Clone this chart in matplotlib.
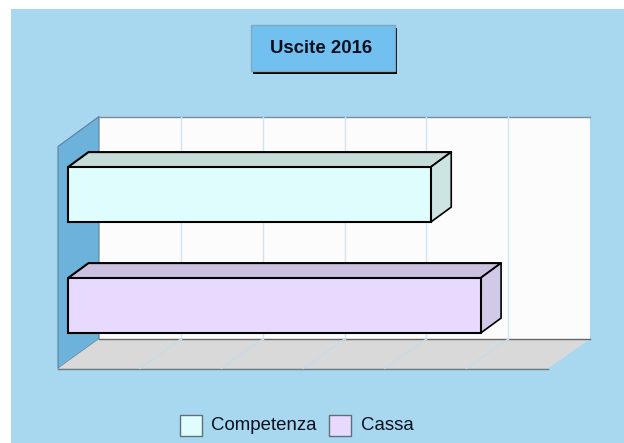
import matplotlib
matplotlib.use("Agg")
import matplotlib.pyplot as plt
from matplotlib.patches import Polygon, Rectangle

plt.rcParams["font.family"] = ["Liberation Sans", "DejaVu Sans"]

TITLE = "Uscite 2016"
CATEGORIES = ["Competenza", "Cassa"]
# values in grid steps, the original has no value labels
VALUES = [4.44, 5.05]
COLORS = ["#e0fdfe", "#e8daff"]
TOP_COLORS = ["#c5dcd9", "#cbc0e0"]
SIDE_COLORS = ["#cce5e2", "#d2c8e8"]
GRID_STEPS = [1, 2, 3, 4, 5]

W, H = 624, 443
STEP = 81.7    # px per grid step
X0 = 68        # px of value zero on the bar front
DX, DY = 20.5 / STEP, 15   # bar depth
BAR_Y = [194.6, 305.6]
BAR_H = 55

# wall corners, px
WALL_L, WALL_R, WALL_T, WALL_B = 99, 590, 116.5, 339
FLOOR_L, FLOOR_R, FRONT_T, FRONT_B = 58, 548, 146.5, 368.5


def vx(px):
    return (px - X0) / STEP


fig = plt.figure(figsize=(W / 100, H / 100), dpi=100, facecolor="white")
ax = fig.add_axes([0, 0, 1, 1])
ax.set_xlim(vx(0), vx(W))
ax.set_ylim(H, 0)
ax.axis("off")

ax.add_patch(Rectangle((vx(11), 9), vx(W) - vx(11), H - 9, fc="#a8d8f0", ec="none"))

# back wall, side wall, floor
ax.add_patch(Rectangle((vx(WALL_L), WALL_T), vx(WALL_R) - vx(WALL_L), WALL_B - WALL_T,
                       fc="#fcfcfc", ec="none", zorder=1))
ax.add_patch(Polygon([(vx(FLOOR_L), FRONT_T), (vx(WALL_L), WALL_T), (vx(WALL_L), WALL_B),
                      (vx(FLOOR_L), FRONT_B)], fc="#6cb2da", ec="#5f7f99", lw=0.8, zorder=1))
ax.add_patch(Polygon([(vx(FLOOR_L), FRONT_B), (vx(WALL_L), WALL_B), (vx(WALL_R), WALL_B),
                      (vx(FLOOR_R), FRONT_B)], fc="#d9d9d9", ec="none", zorder=1))
ax.plot([vx(WALL_L), vx(WALL_R)], [WALL_T, WALL_T], color="#7f8c96", lw=1, zorder=2)
ax.plot([vx(WALL_L), vx(WALL_R)], [WALL_B, WALL_B], color="#666666", lw=1, zorder=2)
ax.plot([vx(FLOOR_L), vx(FLOOR_R)], [FRONT_B, FRONT_B], color="#777777", lw=1, zorder=2)

wall_step = (WALL_R - WALL_L) / 6
floor_step = (FLOOR_R - FLOOR_L) / 6
for s in GRID_STEPS:
    bx, fx = vx(WALL_L + s * wall_step), vx(FLOOR_L + s * floor_step)
    ax.plot([bx, bx], [WALL_T, WALL_B], color="#cfe6f2", lw=1, zorder=2)
    ax.plot([fx, bx], [FRONT_B, WALL_B], color="#c4dcea", lw=1, zorder=3)

# bars
ax.barh(BAR_Y, VALUES, height=BAR_H, left=0, color=COLORS, edgecolor="black", lw=1.5, zorder=4)
for y, v, top, side in zip(BAR_Y, VALUES, TOP_COLORS, SIDE_COLORS):
    t, b = y - BAR_H / 2, y + BAR_H / 2
    ax.add_patch(Polygon([(0, t), (DX, t - DY), (v + DX, t - DY), (v, t)],
                         fc=top, ec="black", lw=1.5, joinstyle="round", zorder=3))
    ax.add_patch(Polygon([(v, t), (v + DX, t - DY), (v + DX, b - DY), (v, b)],
                         fc=side, ec="black", lw=1.2, joinstyle="round", zorder=3))

# title box
ax.add_patch(Rectangle((vx(253), 27.5), 144 / STEP, 46, fc="black", ec="none", zorder=5))
ax.add_patch(Rectangle((vx(250.5), 24.5), 144 / STEP, 46, fc="#71c0f0", ec="#7fa8c4", lw=1, zorder=6))
ax.text(vx(321.5), 48, TITLE, fontsize=13.4, fontweight="bold", color="#0a0f1e",
        ha="center", va="center", zorder=7)

# legend
for px, tx, name, c in zip([179.5, 328.5], [211.5, 361], CATEGORIES, COLORS):
    ax.add_patch(Rectangle((vx(px), 414.5), 22 / STEP, 21, fc=c, ec="#5f6f78", lw=1, zorder=5))
    ax.text(vx(tx), 425, name, fontsize=13.4, color="#0a0f1e", ha="left", va="center", zorder=5)

fig.savefig("out.png", dpi=100)
